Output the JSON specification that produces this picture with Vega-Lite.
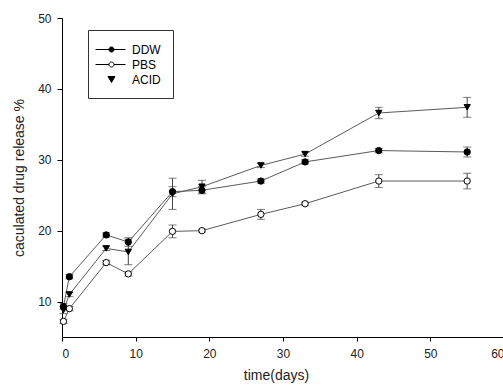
{
  "$schema": "https://vega.github.io/schema/vega-lite/v6.json",
  "width": 442,
  "height": 319,
  "autosize": {"type": "none"},
  "padding": {"left": 62, "top": 18, "right": 0, "bottom": 52},
  "background": "white",
  "config": {
    "view": {"stroke": null},
    "font": "Liberation Sans",
    "axis": {
      "grid": false,
      "domainColor": "black",
      "tickColor": "black",
      "tickSize": 5,
      "labelFont": "Liberation Sans",
      "labelFontSize": 12,
      "labelColor": "#222",
      "titleFont": "Liberation Sans",
      "titleFontSize": 14,
      "titleFontWeight": "normal",
      "titleColor": "#222"
    },
    "legend": {
      "orient": "none",
      "legendX": 26,
      "legendY": 12,
      "strokeColor": "#333",
      "padding": 12,
      "symbolSize": 196,
      "symbolStrokeColor": "black",
      "symbolStrokeWidth": 1,
      "symbolOpacity": 1,
      "labelFont": "Liberation Sans",
      "labelFontSize": 12,
      "labelColor": "black",
      "labelOffset": 17,
      "rowPadding": 1
    }
  },
  "data": {
    "values": [
      {"series": "DDW", "day": 0.2, "value": 9.3, "err": 0.4},
      {"series": "DDW", "day": 1, "value": 13.5, "err": 0.3},
      {"series": "DDW", "day": 6, "value": 19.4, "err": 0.3},
      {"series": "DDW", "day": 9, "value": 18.4, "err": 0.6},
      {"series": "DDW", "day": 15, "value": 25.5, "err": 0.7},
      {"series": "DDW", "day": 19, "value": 25.7, "err": 0.5},
      {"series": "DDW", "day": 27, "value": 27.0, "err": 0.3},
      {"series": "DDW", "day": 33, "value": 29.7, "err": 0.3},
      {"series": "DDW", "day": 43, "value": 31.3, "err": 0.3},
      {"series": "DDW", "day": 55, "value": 31.1, "err": 0.7},
      {"series": "PBS", "day": 0.2, "value": 7.2, "err": 0.3},
      {"series": "PBS", "day": 1, "value": 9.0, "err": 0.3},
      {"series": "PBS", "day": 6, "value": 15.5, "err": 0.3},
      {"series": "PBS", "day": 9, "value": 13.9, "err": 0.3},
      {"series": "PBS", "day": 15, "value": 19.9, "err": 0.9},
      {"series": "PBS", "day": 19, "value": 20.0, "err": 0.2},
      {"series": "PBS", "day": 27, "value": 22.3, "err": 0.7},
      {"series": "PBS", "day": 33, "value": 23.8, "err": 0.2},
      {"series": "PBS", "day": 43, "value": 27.0, "err": 0.9},
      {"series": "PBS", "day": 55, "value": 27.0, "err": 1.1},
      {"series": "ACID", "day": 0.2, "value": 8.8, "err": 0.5},
      {"series": "ACID", "day": 1, "value": 11.0, "err": 0.3},
      {"series": "ACID", "day": 6, "value": 17.5, "err": 0.3},
      {"series": "ACID", "day": 9, "value": 17.0, "err": 1.8},
      {"series": "ACID", "day": 15, "value": 25.2, "err": 2.2},
      {"series": "ACID", "day": 19, "value": 26.2, "err": 0.9},
      {"series": "ACID", "day": 27, "value": 29.2, "err": 0.3},
      {"series": "ACID", "day": 33, "value": 30.8, "err": 0.3},
      {"series": "ACID", "day": 43, "value": 36.6, "err": 0.8},
      {"series": "ACID", "day": 55, "value": 37.4, "err": 1.4}
    ]
  },
  "encoding": {
    "x": {
      "field": "day", "type": "quantitative",
      "scale": {"domain": [0, 60], "nice": false, "zero": false},
      "axis": {"values": [0, 10, 20, 30, 40, 50, 60], "title": "time(days)", "tickSize": 4, "labelPadding": 7, "titlePadding": 9, "titleX": 214}
    },
    "y": {
      "field": "value", "type": "quantitative",
      "scale": {"domain": [5, 50], "nice": false, "zero": false},
      "axis": {"values": [10, 20, 30, 40, 50], "title": "caculated drug release %", "labelPadding": 6, "titlePadding": 11}
    }
  },
  "layer": [
    {
      "mark": {"type": "line", "stroke": "#5a5a5a", "strokeWidth": 1},
      "encoding": {"detail": {"field": "series"}}
    },
    {
      "mark": {"type": "errorbar", "color": "#444", "ticks": {"size": 8, "color": "#444"}, "rule": {"color": "#444"}},
      "encoding": {
        "y": {"field": "value", "type": "quantitative"},
        "yError": {"field": "err"},
        "detail": {"field": "series"}
      }
    },
    {
      "mark": {"type": "point", "filled": true, "stroke": "black", "strokeWidth": 1, "opacity": 1, "size": 40},
      "encoding": {
        "shape": {"field": "series", "type": "nominal", "scale": {"domain": ["DDW", "PBS", "ACID"], "range": ["circle", "circle", "triangle-down"]}, "legend": null},
        "fill": {"field": "series", "type": "nominal", "scale": {"domain": ["DDW", "PBS", "ACID"], "range": ["black", "white", "black"]}, "legend": null}
      }
    },
    {
      "transform": [{"filter": "false"}],
      "mark": {"type": "point", "filled": true, "stroke": "black", "strokeWidth": 1, "opacity": 1},
      "encoding": {
        "shape": {"field": "series", "type": "nominal", "scale": {"domain": ["DDW", "PBS", "ACID"], "range": ["M-1.71,0L2.57,0M0.21,0A0.36,0.36 0 1,0 0.93,0A0.36,0.36 0 1,0 0.21,0Z", "M-1.71,0L0.21,0M0.93,0L2.57,0M0.21,0A0.36,0.36 0 1,0 0.93,0A0.36,0.36 0 1,0 0.21,0Z", "M0.07,-0.43L1.07,-0.43L0.57,0.43Z"]}, "legend": {"title": null, "encode": {"symbols": {"update": {"stroke": {"value": "black"}, "strokeWidth": {"value": 1}}}}}},
        "fill": {"field": "series", "type": "nominal", "scale": {"domain": ["DDW", "PBS", "ACID"], "range": ["black", "white", "black"]}, "legend": {"title": null, "encode": {"symbols": {"update": {"stroke": {"value": "black"}, "strokeWidth": {"value": 1}}}}}}
      }
    }
  ],
  "resolve": {"scale": {"shape": "independent", "fill": "independent"}}
}
